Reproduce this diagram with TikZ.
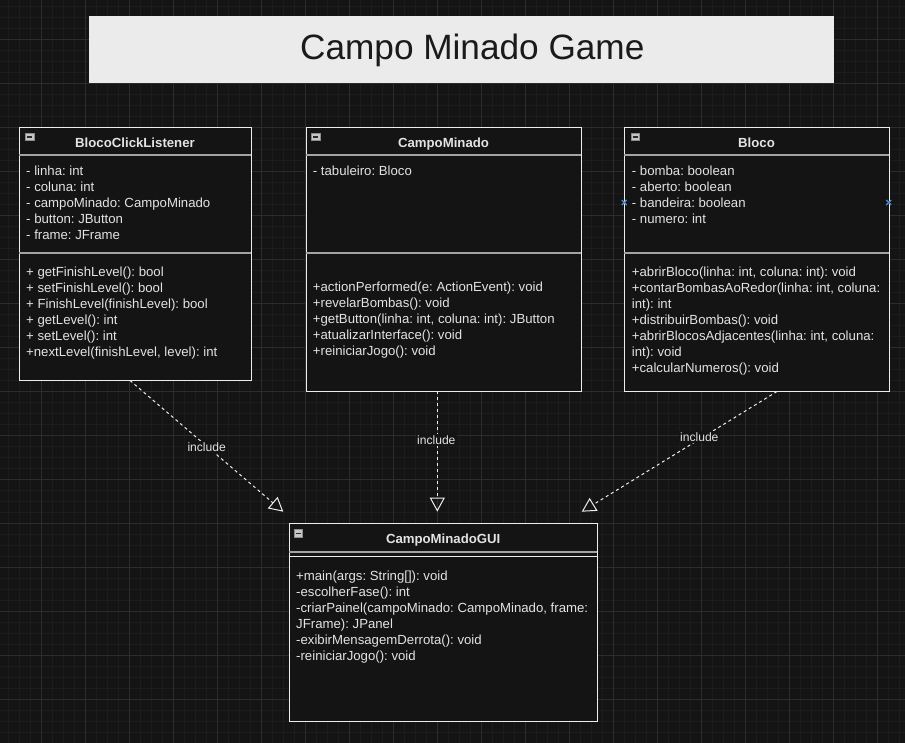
\documentclass[tikz,border=0pt]{standalone}
\usepackage{fontspec}
\setmainfont{Liberation Sans}
\usetikzlibrary{arrows.meta}
\definecolor{bg}{HTML}{141414}
\definecolor{gridminor}{HTML}{1C1C1C}
\definecolor{gridmajor}{HTML}{2C2C2C}
\definecolor{boxline}{HTML}{EDEDED}
\definecolor{txt}{HTML}{E3E3E3}
\definecolor{sepgray}{HTML}{A3A3A3}
\definecolor{titlefill}{HTML}{EBEBEB}
\definecolor{titletxt}{HTML}{1A1A1A}
\definecolor{iconfill}{HTML}{C6C6C6}
\definecolor{icondark}{HTML}{2A2A2A}
\definecolor{marker}{HTML}{4F8FD0}
\frenchspacing
\newcommand\memberlines[4]{%
  \foreach \t [count=\i] in {#4} {
    \node[member] (#1\i) at (#2, {#3+16*(\i-1)}) {\t};
  }%
}
\begin{document}
\begin{tikzpicture}[x=1pt,y=-1pt,
  minor/.style={draw=gridminor, line width=0.6pt},
  major/.style={draw=gridmajor, line width=0.8pt},
  classbox/.style={draw=boxline, line width=1pt, fill=bg, rectangle, inner sep=0pt, anchor=north west},
  sepline/.style={draw=sepgray, line width=1.8pt},
  thinsep/.style={draw=boxline, line width=1pt},
  member/.style={anchor=base west, inner sep=0pt, text=txt, font=\fontsize{13.2pt}{16pt}\selectfont\frenchspacing},
  header/.style={anchor=base, inner sep=0pt, text=txt, font=\fontsize{13.2pt}{16pt}\selectfont\bfseries},
  iconbox/.style={rectangle, fill=iconfill, draw=iconfill!70!black, line width=0.5pt, minimum width=8.5pt, minimum height=7.5pt, inner sep=0pt},
  icondash/.style={draw=icondark, line width=1.3pt},
  dep/.style={draw=boxline, line width=1pt, dash pattern=on 3pt off 3pt, -{Triangle[open, length=14pt, width=15pt]}},
  deplabel/.style={fill=bg, inner sep=1.5pt, text=txt, font=\fontsize{12.1pt}{14pt}\selectfont},
  mk/.style={draw=marker, line width=1.2pt}
]
\fill[bg] (0,0) rectangle (905,743);
\useasboundingbox (0,0) rectangle (905,743);
% grid
\foreach \xx in {8,19,...,905} \draw[minor] (\xx,0) -- (\xx,743);
\foreach \yy in {6.3,17.3,...,743} \draw[minor] (0,\yy) -- (905,\yy);
\foreach \xx in {41,85,...,905} \draw[major] (\xx,0) -- (\xx,743);
\foreach \yy in {39.3,83.3,...,743} \draw[major] (0,\yy) -- (905,\yy);

% title
\node[rectangle, fill=titlefill, inner sep=0pt, minimum width=745pt, minimum height=67.3pt, anchor=north west] (titlebox) at (89,16) {};
\node[anchor=base, inner sep=0pt, text=titletxt, font=\fontsize{35.2pt}{40pt}\selectfont] (titletext) at (472.3,60) {Campo Minado Game};

% BlocoClickListener
\node[classbox, minimum width=231.4pt, minimum height=252.7pt] (bcl) at (19.3,127.3) {};
\draw[sepline] (19.3,155.3) -- (250.7,155.3);
\draw[sepline] (19.3,252.7) -- (250.7,252.7);
\node[iconbox] (bclicon) at (29.8,137) {};
\draw[icondash] (27.3,137) -- (32.3,137);
\node[header] (bcltitle) at (135,147.7) {BlocoClickListener};
\memberlines{bcla}{26}{175.3}{- linha: int, - coluna: int, - campoMinado: CampoMinado, - button: JButton, - frame: JFrame}
\memberlines{bclm}{26}{276.3}{+ getFinishLevel(): bool, + setFinishLevel(): bool, + FinishLevel(finishLevel): bool, + getLevel(): int, + setLevel(): int, {+nextLevel(finishLevel, level): int}}

% CampoMinado
\node[classbox, minimum width=275pt, minimum height=263.4pt] (cm) at (306,127.3) {};
\draw[sepline] (306,155.3) -- (581,155.3);
\draw[sepline] (306,252.7) -- (581,252.7);
\node[iconbox] (cmicon) at (315.8,137) {};
\draw[icondash] (313.3,137) -- (318.3,137);
\node[header] (cmtitle) at (443.5,147.7) {CampoMinado};
\memberlines{cma}{312.7}{175.3}{- tabuleiro: Bloco}
\memberlines{cmm}{312.7}{291.3}{+actionPerformed(e: ActionEvent): void, +revelarBombas(): void, {+getButton(linha: int, coluna: int): JButton}, +atualizarInterface(): void, +reiniciarJogo(): void}

% Bloco
\node[classbox, minimum width=264.4pt, minimum height=263.4pt] (bloco) at (624.3,127.3) {};
\draw[sepline] (624.3,155.3) -- (888.7,155.3);
\draw[sepline] (624.3,252.7) -- (888.7,252.7);
\node[iconbox] (blocoicon) at (635,137) {};
\draw[icondash] (632.5,137) -- (637.5,137);
\node[header] (blocotitle) at (756.5,147.7) {Bloco};
\memberlines{bla}{631.7}{175.3}{- bomba: boolean, - aberto: boolean, - bandeira: boolean, - numero: int}
\memberlines{blm}{631.7}{276.3}{{+abrirBloco(linha: int, coluna: int): void}, {+contarBombasAoRedor(linha: int, coluna:}, int): int, +distribuirBombas(): void, {+abrirBlocosAdjacentes(linha: int, coluna:}, int): void, +calcularNumeros(): void}
\coordinate (mkL) at (624.3,202.5);
\coordinate (mkR) at (888.7,202.5);
\draw[mk] ([shift={(-2.5,-2.5)}]mkL) -- ([shift={(2.5,2.5)}]mkL) ([shift={(-2.5,2.5)}]mkL) -- ([shift={(2.5,-2.5)}]mkL);
\draw[mk] ([shift={(-2.5,-2.5)}]mkR) -- ([shift={(2.5,2.5)}]mkR) ([shift={(-2.5,2.5)}]mkR) -- ([shift={(2.5,-2.5)}]mkR);

% CampoMinadoGUI
\node[classbox, minimum width=308.3pt, minimum height=197.7pt] (gui) at (289,523.3) {};
\draw[sepline] (289,551.7) -- (597.3,551.7);
\draw[thinsep] (289,556.3) -- (597.3,556.3);
\node[iconbox] (guiicon) at (298.2,533.2) {};
\draw[icondash] (295.7,533.2) -- (300.7,533.2);
\node[header] (guititle) at (443.2,543.7) {CampoMinadoGUI};
\memberlines{guim}{296}{580.6}{{+main(args: String[]): void}, -escolherFase(): int, {-criarPainel(campoMinado: CampoMinado, frame:}, {JFrame): JPanel}, -exibirMensagemDerrota(): void, -reiniciarJogo(): void}

% dependencies
\coordinate (s1) at (130,380.5);
\coordinate (t1) at (283.3,511.7);
\coordinate (s2) at (437.3,391);
\coordinate (t2) at (437.3,511.7);
\coordinate (s3) at (777,391.5);
\coordinate (t3) at (581.7,511.7);
\draw[dep] (s1) -- (t1);
\draw[dep] (s2) -- (t2);
\draw[dep] (s3) -- (t3);
\node[deplabel] (l1) at (206.7,446.7) {include};
\node[deplabel] (l2) at (436.3,440) {include};
\node[deplabel] (l3) at (699.3,437.3) {include};
\end{tikzpicture}
\end{document}
